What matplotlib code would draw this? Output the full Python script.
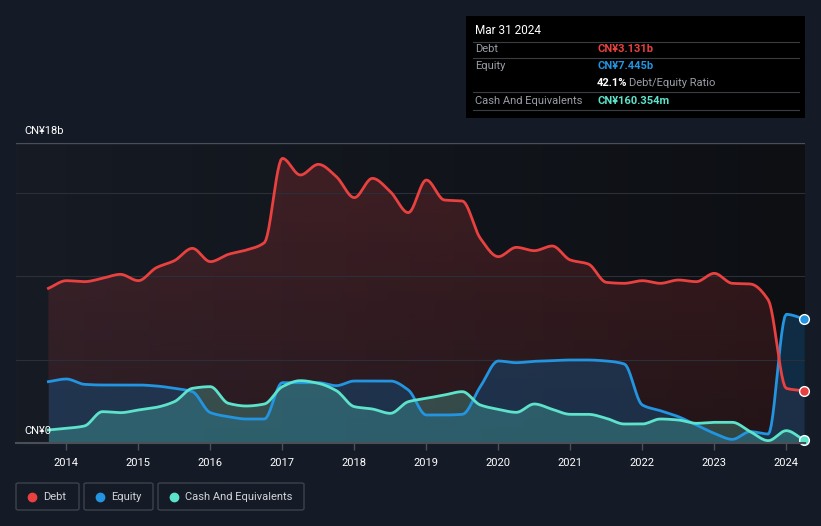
import numpy as np
import matplotlib.pyplot as plt
from matplotlib.patches import FancyBboxPatch, Rectangle
from matplotlib.lines import Line2D

plt.rcParams['font.family'] = ['Roboto', 'DejaVu Sans']

# quarterly data, Sep 2013 .. Mar 2024 (CN¥ billions)
quarters = [2013.75 + 0.25 * i for i in range(43)]
debt = [9.28, 9.74, 9.68, 9.88, 10.12, 9.74, 10.52, 10.94, 11.68, 10.88, 11.32,
        11.58, 12.02, 17.08, 16.08, 16.72, 15.98, 14.72, 15.88, 15.08, 13.82,
        15.78, 14.58, 14.52, 12.28, 11.18, 11.74, 11.54, 11.82, 10.98, 10.74,
        9.64, 9.58, 9.74, 9.58, 9.78, 9.68, 10.18, 9.58, 9.54, 8.58, 3.28, 3.131]
equity = [3.68, 3.84, 3.52, 3.48, 3.48, 3.48, 3.42, 3.28, 3.08, 1.82, 1.58,
          1.44, 1.44, 3.62, 3.62, 3.62, 3.44, 3.72, 3.72, 3.72, 3.18,
          1.68, 1.68, 1.72, 3.38, 4.92, 4.82, 4.90, 4.94, 4.98, 4.98,
          4.92, 4.74, 2.28, 1.94, 1.58, 1.08, 0.58, 0.22, 0.68, 0.54, 7.72, 7.445]
cash = [0.78, 0.88, 1.02, 1.88, 1.82, 1.98, 2.14, 2.48, 3.28, 3.38, 2.38,
        2.22, 2.34, 3.38, 3.74, 3.58, 3.14, 2.18, 2.04, 1.78, 2.48,
        2.68, 2.88, 3.08, 2.28, 2.02, 1.84, 2.34, 2.02, 1.72, 1.72,
        1.48, 1.14, 1.14, 1.44, 1.38, 1.18, 1.24, 1.24, 0.68, 0.14, 0.74, 0.160]
years = list(range(2014, 2025))

BG = '#151b26'
RED = '#e8413f'
BLUE = '#2394df'
TEAL = '#5de3cb'


def smooth(xs, ys, n=12):
    # monotone cubic (Fritsch-Carlson) curve through the points, for drawing only
    xs = np.asarray(xs, float)
    ys = np.asarray(ys, float)
    h = np.diff(xs)
    d = np.diff(ys) / h
    m = np.zeros_like(ys)
    m[0], m[-1] = d[0], d[-1]
    for i in range(1, len(ys) - 1):
        if d[i - 1] * d[i] > 0:
            m[i] = 2 / (1 / d[i - 1] + 1 / d[i])
    px, py = [], []
    for i in range(len(h)):
        t = np.linspace(0, 1, n, endpoint=False)
        h00 = 2 * t**3 - 3 * t**2 + 1
        h10 = t**3 - 2 * t**2 + t
        h01 = -2 * t**3 + 3 * t**2
        h11 = t**3 - t**2
        px.extend(xs[i] + t * h[i])
        py.extend(h00 * ys[i] + h10 * h[i] * m[i] + h01 * ys[i + 1] + h11 * h[i] * m[i + 1])
    px.append(xs[-1])
    py.append(ys[-1])
    return np.array(px), np.array(py)


fig = plt.figure(figsize=(8.21, 5.26), dpi=100, facecolor=BG)
ax = fig.add_axes([16 / 821, 83 / 526, 789 / 821, 300 / 526])
ax.set_xlim(2013.30, 2024.26)
ax.set_ylim(0, 18)

# background gradient of the plot area
grad = np.linspace(0, 1, 256)[None, :, None]
c0 = np.array([22, 27, 36]) / 255
c1 = np.array([13, 15, 19]) / 255
bgimg = c0 * (1 - grad) + c1 * grad
ax.imshow(bgimg, extent=[2013.30, 2024.26, 0, 18], aspect='auto', zorder=0)

# debt fill with vertical gradient
sx, sy = smooth(quarters, debt)
poly = ax.fill_between(sx, 0, sy, color='none', lw=0)
vg = np.linspace(1, 0, 256)
red_rgba = np.zeros((256, 1, 4))
red_rgba[:, 0, 0] = 232 / 255
red_rgba[:, 0, 1] = 65 / 255
red_rgba[:, 0, 2] = 63 / 255
red_rgba[:, 0, 3] = 0.10 + 0.12 * vg
im = ax.imshow(red_rgba, extent=[2013.30, 2024.26, 0, 18], aspect='auto', zorder=1)
im.set_clip_path(poly.get_paths()[0], transform=ax.transData)

ex, ey = smooth(quarters, equity)
ax.fill_between(ex, 0, ey, color='#135284', alpha=0.44, lw=0, zorder=1.1)
cx, cy = smooth(quarters, cash)
ax.fill_between(cx, 0, cy, color=TEAL, alpha=0.25, lw=0, zorder=1.2)

for (lx, ly), vals, col in [((ex, ey), equity, BLUE), ((cx, cy), cash, TEAL), ((sx, sy), debt, RED)]:
    ax.plot(lx, ly, color=col, lw=2.0, solid_joinstyle='round', zorder=3)
    ax.plot(quarters[-1], vals[-1], 'o', ms=7, mfc=col, mec='white', mew=1, zorder=4, clip_on=False)

for g in [5, 10, 15]:
    ax.axhline(g, color='#2b2f37', lw=0.8, zorder=1.5)
ax.axhline(18, color='#4a4e56', lw=1, zorder=1.5)
for s in ax.spines.values():
    s.set_visible(False)
ax.axhline(0, color='#4a4e56', lw=1.5, zorder=5, clip_on=False)
ax.set_yticks([])
ax.set_xticks(years)
ax.set_xticklabels([str(y) for y in years], fontsize=8)
ax.tick_params(axis='x', colors='#4a4e56', length=5, width=1, pad=6, labelcolor='white')

fig.text(24 / 821, 1 - 131 / 526, 'CN¥18b', color='white', fontsize=8, va='center')
fig.text(24 / 821, 1 - 431 / 526, 'CN¥0', color='white', fontsize=8, va='center', zorder=10)

# tooltip box
fig.patches.append(Rectangle((466 / 821, 1 - 118 / 526), 339 / 821, 102 / 526,
                             transform=fig.transFigure, facecolor='black', edgecolor='none'))
fig.text(475 / 821, 1 - 31 / 526, 'Mar 31 2024', color='white', fontsize=8.5, va='center')
for yy in [41.5, 58.3, 92.3, 110]:
    fig.add_artist(Line2D([473 / 821, 799 / 821], [1 - yy / 526] * 2, color='#3a3d42', lw=0.8))
rows = [(49.5, 'Debt', 'CN¥3.131b', RED), (66.3, 'Equity', 'CN¥7.445b', BLUE),
        (101, 'Cash And Equivalents', 'CN¥160.354m', TEAL)]
for yy, lab, val, col in rows:
    fig.text(475 / 821, 1 - yy / 526, lab, color='#9a9ea6', fontsize=8, va='center')
    fig.text(597 / 821, 1 - yy / 526, val, color=col, fontsize=8, va='center', fontweight='bold')
fig.text(597 / 821, 1 - 83.5 / 526, '42.1%', color='white', fontsize=8, va='center', fontweight='bold')
fig.text(629 / 821, 1 - 83.5 / 526, 'Debt/Equity Ratio', color='#9a9ea6', fontsize=8, va='center')

# legend
items = [(16, 63, 'Debt', RED), (84, 69, 'Equity', BLUE), (158, 146, 'Cash And Equivalents', TEAL)]
for x0, w, lab, col in items:
    fig.patches.append(FancyBboxPatch((x0 / 821, 1 - 510 / 526), w / 821, 27 / 526,
                                      boxstyle='round,pad=0,rounding_size=0.003',
                                      transform=fig.transFigure, facecolor='none',
                                      edgecolor='#3d424b', lw=1))
    fig.add_artist(Line2D([(x0 + 16) / 821], [1 - 496.5 / 526], marker='o', ms=6,
                          color=col, mec=col, ls='none'))
    fig.text((x0 + 27) / 821, 1 - 496.5 / 526, lab, color='#d0d3d8', fontsize=8, va='center')

fig.savefig('out.png', dpi=100, facecolor=BG)
